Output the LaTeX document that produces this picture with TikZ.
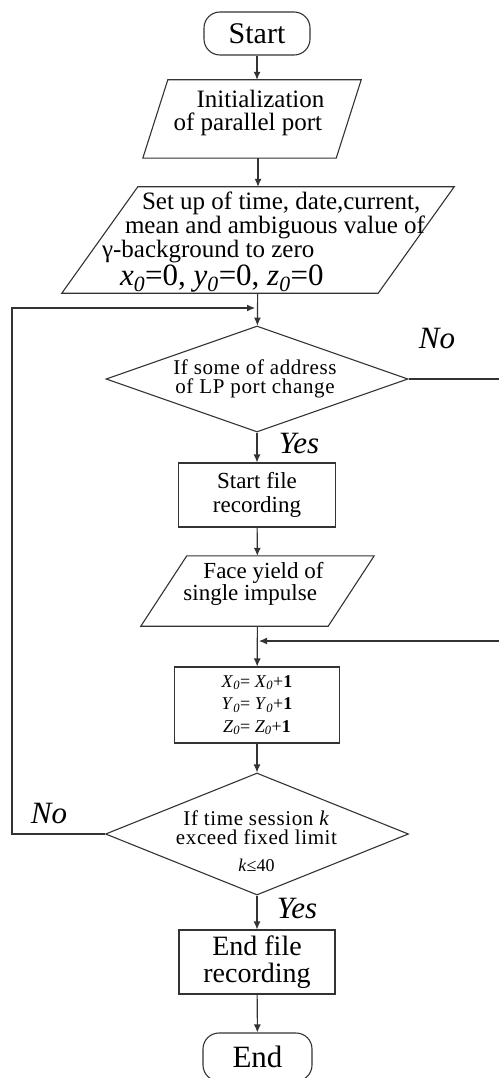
\documentclass[tikz,border=0pt]{standalone}
\usepackage{fontspec}
\setmainfont{Liberation Serif}
\usetikzlibrary{arrows.meta,calc,shapes.geometric}

\newcommand{\isub}[2]{\textit{#1}\textsubscript{\textit{#2}}}
\newcommand{\fsz}[2]{\fontsize{#1}{#2}\selectfont}
\newcommand{\slantbox}[2]{%
  \draw [flow] ($(#1.north west)+(#2,0)$) -- ($(#1.north east)+(#2,0)$)
    -- ($(#1.south east)-(#2,0)$) -- ($(#1.south west)-(#2,0)$) -- cycle ;}

\tikzset{
  flow/.style={draw=black!80, line width=1.1pt},
  term/.style={flow, rounded corners=16pt, inner sep=0pt, minimum height=43pt},
  proc/.style={flow, rectangle, inner sep=0pt, align=center},
  io/.style={rectangle, inner sep=0pt},
  decide/.style={flow, diamond, inner sep=0pt},
  words/.style={inner sep=0pt},
  spaced/.style={font=\fsz{21}{19}\addfontfeature{LetterSpace=3}},
  tag/.style={inner sep=0pt, font=\itshape\fsz{31}{31}},
  line/.style={flow, ->},
  >={Latex[length=8pt,width=7pt]},
}

\begin{document}
\begin{tikzpicture}[x=1pt, y=-1pt]

  \useasboundingbox [fill=white] (0,0) rectangle (498,1078) ;

  % terminals, boxes and decisions
  \node (start) [term, minimum width=106pt, font=\fsz{30}{30}] at (257,33.5) {Start} ;
  \node (init) [io, minimum width=193pt, minimum height=78pt] at (252,119) {} ;
  \node (setup) [io, minimum width=316pt, minimum height=106pt] at (258,240) {} ;
  \node (ask) [decide, minimum width=302pt, minimum height=106pt] at (257,379) {} ;
  \node (rec) [proc, minimum width=157pt, minimum height=64pt, font=\fsz{23}{24}] at (257,495) {Start file\\recording} ;
  \node (face) [io, minimum width=187pt, minimum height=70pt] at (257.5,591) {} ;
  \node (count) [proc, minimum width=165pt, minimum height=76pt, font=\fsz{18}{22.5}] at (257,705)
    {\isub{X}{0}= \isub{X}{0}+\textbf{1}\\\isub{Y}{0}= \isub{Y}{0}+\textbf{1}\\\isub{Z}{0}= \isub{Z}{0}+\textbf{1}} ;
  \node (limit) [decide, minimum width=303pt, minimum height=122pt] at (257,834) {} ;
  \node (stop) [proc, minimum width=156pt, minimum height=64pt, font=\fsz{28}{27}] at (257,962) {End file\\recording} ;
  \node (finish) [term, minimum width=109pt, minimum height=48pt, font=\fsz{31}{31}] at (257.5,1057) {End} ;

  \slantbox{init}{12.5}
  \slantbox{setup}{38}
  \slantbox{face}{23}

  % texts inside the slanted boxes and decisions
  \node (init-t) [words, align=left, font=\fsz{25}{23}] at (249,113)
    {\hspace*{23pt}Initialization\\of parallel port} ;
  \node (setup-t) [words, align=left, font=\fsz{25}{22}] at (263.5,242)
    {\hspace*{40pt}Set up of time, date,current,\\\hspace*{23pt}mean and ambiguous value of\\%
     γ-background to zero\\[1pt]{\fsz{31}{26}\hspace*{18pt}\isub{x}{0}=0, \isub{y}{0}=0, \isub{z}{0}=0}} ;
  \node (ask-t) [words, align=center, spaced] at (255,379)
    {If some of address\\of LP port change} ;
  \node (face-t) [words, align=left, font=\fsz{23}{22}] at (253.5,584)
    {\hspace*{20pt}Face yield of\\single impulse} ;
  \node (limit-t) [words, align=center, spaced] at (256.5,841)
    {If time session \textit{k}\\exceed fixed limit\\[8pt]{\fsz{18}{18}\addfontfeature{LetterSpace=0}\textit{k}≤40}} ;

  % branch labels
  \node (no-r) [tag] at (437,339) {No} ;
  \node (no-l) [tag] at (49,813) {No} ;
  \node (yes-a) [tag] at (299,443) {Yes} ;
  \node (yes-b) [tag] at (297,908) {Yes} ;

  % connectors
  \coordinate (back) at (255,308) ;
  \coordinate (again) at (259,641) ;

  \draw [line] (start) -- (start |- init.north) ;
  \draw [line] (init.south -| setup.north) -- (setup.north) ;
  \draw [line] (setup) -- (ask) ;
  \draw [line] (ask) -- (rec) ;
  \draw [line] (rec) -- (face) ;
  \draw [line] (face) -- (count) ;
  \draw [line] (count) -- (limit) ;
  \draw [line] (limit) -- (stop) ;
  \draw [line] (stop) -- (finish) ;

  \draw [line] (limit.west) -- ++(-93,0) |- (back) ;
  \draw [line] (ask.east) -- ++(100,0) |- (again) ;

\end{tikzpicture}
\end{document}
